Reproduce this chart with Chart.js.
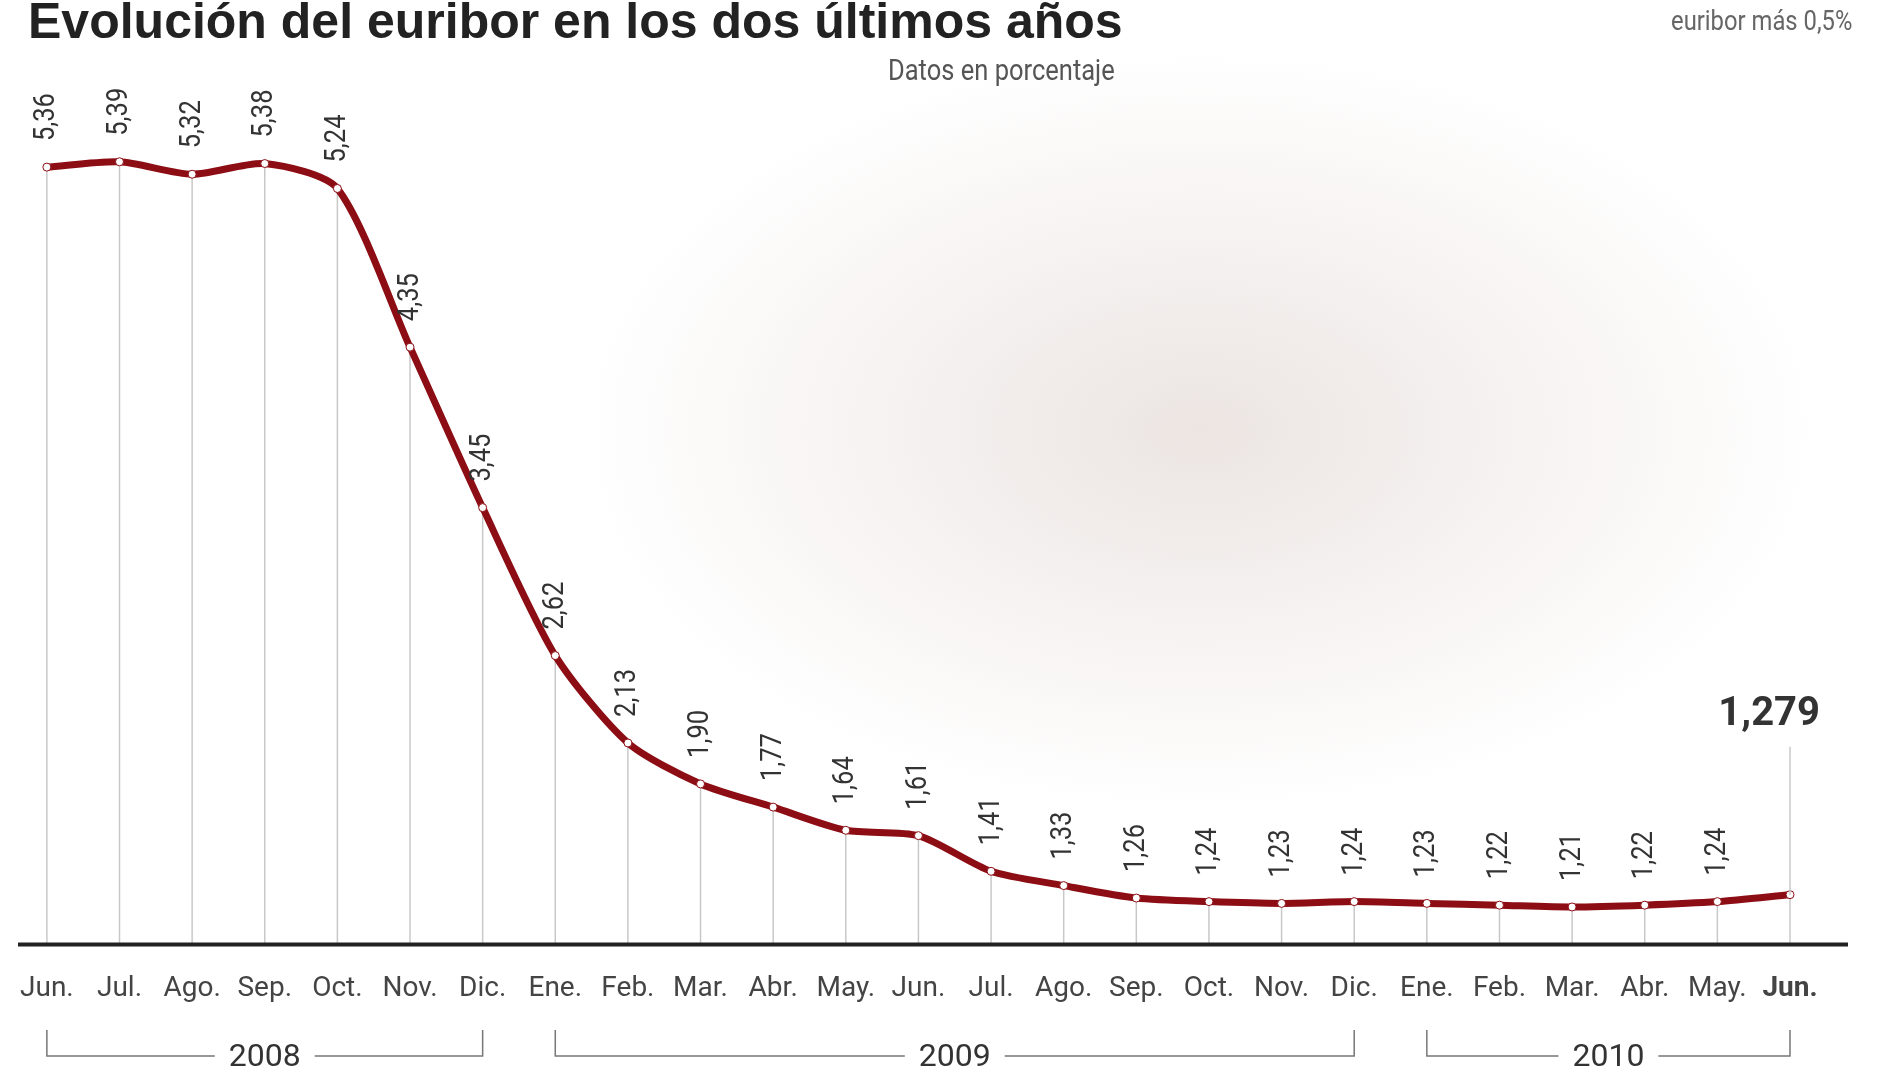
<!DOCTYPE html>
<html><head><meta charset="utf-8">
<script src="https://cdn.jsdelivr.net/npm/chart.js@4/dist/chart.umd.min.js"></script>
<style>
body{margin:0;background:#fff;font-family:Roboto,sans-serif;}
#wrap{position:relative;width:1900px;height:1069px;overflow:hidden;
  background:radial-gradient(ellipse 620px 380px at 1200px 430px, rgba(200,180,172,0.35), rgba(255,255,255,0) 100%);}
#title{position:absolute;left:28px;top:-8px;font:bold 50px 'Liberation Sans',Arial,sans-serif;color:#222}
#sub{position:absolute;right:785px;top:52px;font-size:30px;color:#555;transform:scaleX(0.85);transform-origin:right}
#note{position:absolute;right:48px;top:4px;font-size:28px;color:#666;transform:scaleX(0.85);transform-origin:right}
canvas{position:absolute;left:0;top:0}
</style></head><body>
<div id="wrap">
<canvas id="c" width="1900" height="1069"></canvas>
<div id="title">Evolución del euribor en los dos últimos años</div>
<div id="sub">Datos en porcentaje</div>
<div id="note">euribor más 0,5%</div>
</div>
<script>
// --- Data ---
const months = ['Jun.','Jul.','Ago.','Sep.','Oct.','Nov.','Dic.','Ene.','Feb.','Mar.','Abr.','May.','Jun.','Jul.','Ago.','Sep.','Oct.','Nov.','Dic.','Ene.','Feb.','Mar.','Abr.','May.','Jun.'];
const euribor = [5.36,5.39,5.32,5.38,5.24,4.35,3.45,2.62,2.13,1.90,1.77,1.64,1.61,1.41,1.33,1.26,1.24,1.23,1.24,1.23,1.22,1.21,1.22,1.24,1.279];
const years = [{label:'2008',from:0,to:6},{label:'2009',from:7,to:18},{label:'2010',from:19,to:24}];

const FONT = "Roboto,sans-serif";
const fmt = v => v.toFixed(2).replace('.',',');

const extras = {
  id:'extras',
  beforeDatasetsDraw(chart){
    const {ctx, chartArea:a} = chart;
    const meta = chart.getDatasetMeta(0);
    ctx.save();
    ctx.strokeStyle = '#c8c8c8'; ctx.lineWidth = 1.5;
    meta.data.forEach(p => { ctx.beginPath(); ctx.moveTo(p.x, p.y); ctx.lineTo(p.x, a.bottom); ctx.stroke(); });
    ctx.strokeStyle = '#222'; ctx.lineWidth = 4;
    ctx.beginPath(); ctx.moveTo(18, a.bottom); ctx.lineTo(1848, a.bottom); ctx.stroke();
    ctx.restore();
  },
  afterDatasetsDraw(chart){
    const {ctx} = chart;
    const meta = chart.getDatasetMeta(0);
    ctx.save();
    ctx.fillStyle = '#333';
    meta.data.forEach((p,i) => {
      if (i === euribor.length-1) {
        ctx.font = 'bold 40px ' + FONT; ctx.textAlign='right'; ctx.textBaseline='bottom';
        ctx.fillText('1,279', p.x+30, p.y-160);
        ctx.strokeStyle='#c8c8c8'; ctx.lineWidth=1.5;
        ctx.beginPath(); ctx.moveTo(p.x, p.y); ctx.lineTo(p.x, p.y-148); ctx.stroke();
        return;
      }
      ctx.translate(p.x, p.y-26); ctx.rotate(-Math.PI/2); ctx.scale(0.85,1);
      ctx.font = '30px ' + FONT; ctx.textAlign='left'; ctx.textBaseline='middle';
      ctx.fillText(fmt(euribor[i]), 0, 0);
      ctx.setTransform(1,0,0,1,0,0);
    });
    const yb = 1056;
    ctx.strokeStyle = '#777'; ctx.lineWidth = 1.5;
    ctx.font = '32px ' + FONT; ctx.textAlign='center'; ctx.textBaseline='middle'; ctx.fillStyle='#333';
    years.forEach(y => {
      const x0 = meta.data[y.from].x, x1 = meta.data[y.to].x, xm = (x0+x1)/2;
      const w = ctx.measureText(y.label).width/2 + 14;
      ctx.beginPath();
      ctx.moveTo(x0, yb-26); ctx.lineTo(x0, yb); ctx.lineTo(xm-w, yb);
      ctx.moveTo(xm+w, yb); ctx.lineTo(x1, yb); ctx.lineTo(x1, yb-26);
      ctx.stroke();
      ctx.fillText(y.label, xm, yb+2);
    });
    ctx.restore();
  }
};

new Chart(document.getElementById('c'), {
  type:'line',
  data:{labels:months, datasets:[{data:euribor, borderColor:'#8c0d14', borderWidth:7, tension:0.25,
    pointRadius:4, pointBackgroundColor:'#fff', pointBorderColor:'#8c0d14', pointBorderWidth:1}]},
  options:{
    responsive:false, devicePixelRatio:1, animation:false,
    layout:{padding:{left:34, right:110, top:53, bottom:43}},
    plugins:{legend:{display:false}, tooltip:{enabled:false}},
    scales:{
      x:{offset:false, grid:{display:false}, border:{display:false},
         ticks:{color:'#444', maxRotation:0, autoSkip:false, padding:20,
           font:ctx => ({family:FONT, size:28, weight: ctx.index===months.length-1 ? 'bold':'normal'})}},
      y:{display:false, min:1.0, max:6.0}
    }
  },
  plugins:[extras]
});
</script>
</body></html>
